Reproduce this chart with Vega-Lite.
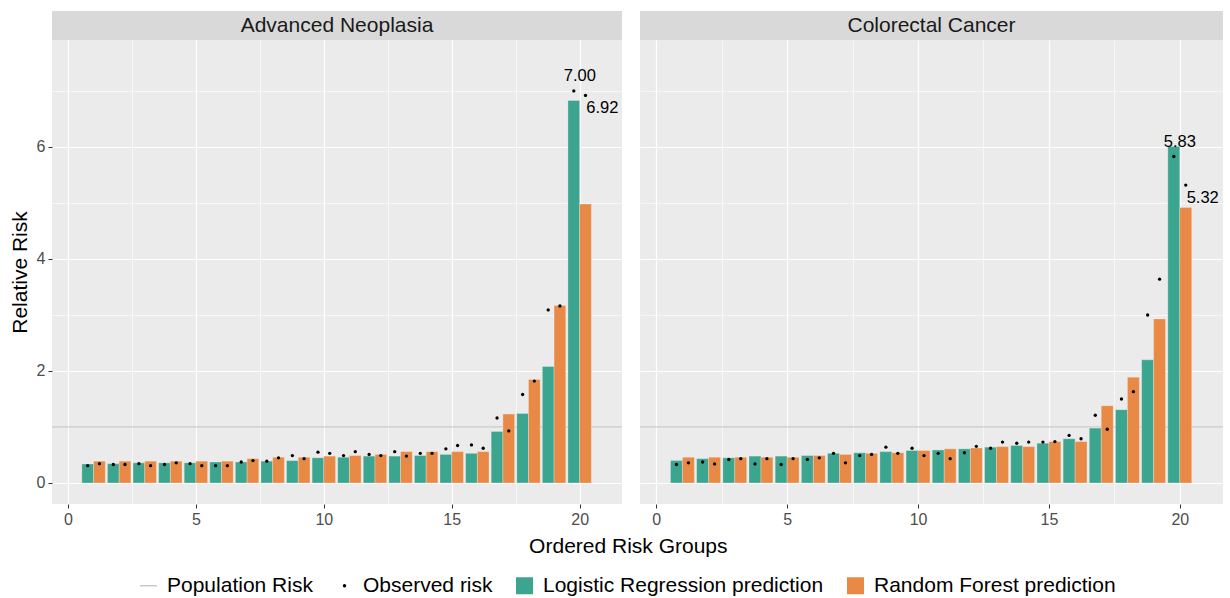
{
  "$schema": "https://vega.github.io/schema/vega-lite/v6.json",
  "padding": {"left": 9, "top": 11, "right": 5, "bottom": 5},
  "background": "white",
  "datasets": {
    "neo": [
      {"group": 1, "model": "Logistic Regression prediction", "predicted": 0.34, "observed": 0.31},
      {"group": 2, "model": "Logistic Regression prediction", "predicted": 0.345, "observed": 0.33},
      {"group": 3, "model": "Logistic Regression prediction", "predicted": 0.36, "observed": 0.345},
      {"group": 4, "model": "Logistic Regression prediction", "predicted": 0.36, "observed": 0.33},
      {"group": 5, "model": "Logistic Regression prediction", "predicted": 0.36, "observed": 0.345},
      {"group": 6, "model": "Logistic Regression prediction", "predicted": 0.375, "observed": 0.31},
      {"group": 7, "model": "Logistic Regression prediction", "predicted": 0.375, "observed": 0.375},
      {"group": 8, "model": "Logistic Regression prediction", "predicted": 0.39, "observed": 0.39},
      {"group": 9, "model": "Logistic Regression prediction", "predicted": 0.40, "observed": 0.49},
      {"group": 10, "model": "Logistic Regression prediction", "predicted": 0.45, "observed": 0.55},
      {"group": 11, "model": "Logistic Regression prediction", "predicted": 0.46, "observed": 0.49},
      {"group": 12, "model": "Logistic Regression prediction", "predicted": 0.48, "observed": 0.51},
      {"group": 13, "model": "Logistic Regression prediction", "predicted": 0.48, "observed": 0.56},
      {"group": 14, "model": "Logistic Regression prediction", "predicted": 0.49, "observed": 0.53},
      {"group": 15, "model": "Logistic Regression prediction", "predicted": 0.51, "observed": 0.61},
      {"group": 16, "model": "Logistic Regression prediction", "predicted": 0.53, "observed": 0.68},
      {"group": 17, "model": "Logistic Regression prediction", "predicted": 0.92, "observed": 1.16},
      {"group": 18, "model": "Logistic Regression prediction", "predicted": 1.24, "observed": 1.58},
      {"group": 19, "model": "Logistic Regression prediction", "predicted": 2.08, "observed": 3.09},
      {"group": 20, "model": "Logistic Regression prediction", "predicted": 6.83, "observed": 7.00},
      {"group": 1, "model": "Random Forest prediction", "predicted": 0.39, "observed": 0.345},
      {"group": 2, "model": "Random Forest prediction", "predicted": 0.39, "observed": 0.33},
      {"group": 3, "model": "Random Forest prediction", "predicted": 0.39, "observed": 0.31},
      {"group": 4, "model": "Random Forest prediction", "predicted": 0.39, "observed": 0.36},
      {"group": 5, "model": "Random Forest prediction", "predicted": 0.39, "observed": 0.31},
      {"group": 6, "model": "Random Forest prediction", "predicted": 0.39, "observed": 0.31},
      {"group": 7, "model": "Random Forest prediction", "predicted": 0.435, "observed": 0.40},
      {"group": 8, "model": "Random Forest prediction", "predicted": 0.46, "observed": 0.45},
      {"group": 9, "model": "Random Forest prediction", "predicted": 0.46, "observed": 0.435},
      {"group": 10, "model": "Random Forest prediction", "predicted": 0.48, "observed": 0.53},
      {"group": 11, "model": "Random Forest prediction", "predicted": 0.49, "observed": 0.56},
      {"group": 12, "model": "Random Forest prediction", "predicted": 0.51, "observed": 0.49},
      {"group": 13, "model": "Random Forest prediction", "predicted": 0.56, "observed": 0.48},
      {"group": 14, "model": "Random Forest prediction", "predicted": 0.56, "observed": 0.53},
      {"group": 15, "model": "Random Forest prediction", "predicted": 0.56, "observed": 0.67},
      {"group": 16, "model": "Random Forest prediction", "predicted": 0.56, "observed": 0.62},
      {"group": 17, "model": "Random Forest prediction", "predicted": 1.23, "observed": 0.93},
      {"group": 18, "model": "Random Forest prediction", "predicted": 1.85, "observed": 1.82},
      {"group": 19, "model": "Random Forest prediction", "predicted": 3.17, "observed": 3.16},
      {"group": 20, "model": "Random Forest prediction", "predicted": 4.98, "observed": 6.92}
    ],
    "crc": [
      {"group": 1, "model": "Logistic Regression prediction", "predicted": 0.40, "observed": 0.33},
      {"group": 2, "model": "Logistic Regression prediction", "predicted": 0.435, "observed": 0.375},
      {"group": 3, "model": "Logistic Regression prediction", "predicted": 0.45, "observed": 0.42},
      {"group": 4, "model": "Logistic Regression prediction", "predicted": 0.48, "observed": 0.34},
      {"group": 5, "model": "Logistic Regression prediction", "predicted": 0.48, "observed": 0.33},
      {"group": 6, "model": "Logistic Regression prediction", "predicted": 0.49, "observed": 0.42},
      {"group": 7, "model": "Logistic Regression prediction", "predicted": 0.53, "observed": 0.53},
      {"group": 8, "model": "Logistic Regression prediction", "predicted": 0.54, "observed": 0.49},
      {"group": 9, "model": "Logistic Regression prediction", "predicted": 0.56, "observed": 0.64},
      {"group": 10, "model": "Logistic Regression prediction", "predicted": 0.58, "observed": 0.62},
      {"group": 11, "model": "Logistic Regression prediction", "predicted": 0.59, "observed": 0.53},
      {"group": 12, "model": "Logistic Regression prediction", "predicted": 0.61, "observed": 0.54},
      {"group": 13, "model": "Logistic Regression prediction", "predicted": 0.64, "observed": 0.62},
      {"group": 14, "model": "Logistic Regression prediction", "predicted": 0.67, "observed": 0.71},
      {"group": 15, "model": "Logistic Regression prediction", "predicted": 0.71, "observed": 0.73},
      {"group": 16, "model": "Logistic Regression prediction", "predicted": 0.79, "observed": 0.85},
      {"group": 17, "model": "Logistic Regression prediction", "predicted": 0.98, "observed": 1.21},
      {"group": 18, "model": "Logistic Regression prediction", "predicted": 1.31, "observed": 1.50},
      {"group": 19, "model": "Logistic Regression prediction", "predicted": 2.20, "observed": 3.00},
      {"group": 20, "model": "Logistic Regression prediction", "predicted": 6.01, "observed": 5.83},
      {"group": 1, "model": "Random Forest prediction", "predicted": 0.46, "observed": 0.36},
      {"group": 2, "model": "Random Forest prediction", "predicted": 0.46, "observed": 0.34},
      {"group": 3, "model": "Random Forest prediction", "predicted": 0.46, "observed": 0.435},
      {"group": 4, "model": "Random Forest prediction", "predicted": 0.46, "observed": 0.435},
      {"group": 5, "model": "Random Forest prediction", "predicted": 0.46, "observed": 0.435},
      {"group": 6, "model": "Random Forest prediction", "predicted": 0.49, "observed": 0.45},
      {"group": 7, "model": "Random Forest prediction", "predicted": 0.51, "observed": 0.36},
      {"group": 8, "model": "Random Forest prediction", "predicted": 0.53, "observed": 0.51},
      {"group": 9, "model": "Random Forest prediction", "predicted": 0.54, "observed": 0.53},
      {"group": 10, "model": "Random Forest prediction", "predicted": 0.58, "observed": 0.49},
      {"group": 11, "model": "Random Forest prediction", "predicted": 0.61, "observed": 0.435},
      {"group": 12, "model": "Random Forest prediction", "predicted": 0.625, "observed": 0.655},
      {"group": 13, "model": "Random Forest prediction", "predicted": 0.65, "observed": 0.73},
      {"group": 14, "model": "Random Forest prediction", "predicted": 0.65, "observed": 0.73},
      {"group": 15, "model": "Random Forest prediction", "predicted": 0.74, "observed": 0.74},
      {"group": 16, "model": "Random Forest prediction", "predicted": 0.74, "observed": 0.79},
      {"group": 17, "model": "Random Forest prediction", "predicted": 1.38, "observed": 0.96},
      {"group": 18, "model": "Random Forest prediction", "predicted": 1.89, "observed": 1.63},
      {"group": 19, "model": "Random Forest prediction", "predicted": 2.93, "observed": 3.64},
      {"group": 20, "model": "Random Forest prediction", "predicted": 4.92, "observed": 5.32}
    ],
    "pop": [{"label": "Population Risk", "risk": 1}]
  },
  "title": {"text": "Ordered Risk Groups", "orient": "bottom", "anchor": "middle", "fontSize": 21, "fontWeight": "normal", "color": "#000000", "offset": -60, "dx": 12},
  "spacing": 16,
  "hconcat": [
    {
      "spacing": 0,
      "vconcat": [
        {
          "width": 570, "height": 29,
          "data": {"values": [{"panel": "Advanced Neoplasia"}]},
          "view": {"fill": "#D9D9D9", "stroke": null},
          "mark": {"type": "text", "fontSize": 21, "color": "#1A1A1A"},
          "encoding": {"text": {"field": "panel", "type": "nominal"}}
        },
        {
          "width": 570, "height": 464,
          "view": {"fill": "#EBEBEB", "stroke": null},
          "layer": [
            {
              "data": {"name": "pop"},
              "mark": {"type": "rule", "strokeWidth": 1.1},
              "encoding": {
                "y": {"field": "risk", "type": "quantitative", "scale": {"domain": [-0.375, 7.91], "nice": false, "zero": false},
                  "axis": {"values": [0, 1, 2, 3, 4, 5, 6, 7], "labelExpr": "datum.value % 2 === 0 ? format(datum.value, 'd') : ''", "title": "Relative Risk", "labelFontSize": 16,
                    "gridWidth": {"condition": {"test": "datum.value % 2 === 0", "value": 1.2}, "value": 0.6},
                    "tickSize": {"condition": {"test": "datum.value % 2 === 0", "value": 4}, "value": 0}}},
                "color": {"field": "label", "type": "nominal",
                  "scale": {"domain": ["Population Risk", "Observed risk", "Logistic Regression prediction", "Random Forest prediction"], "range": ["#BDBDBD", "#000000", "#3BA58F", "#E88A45"]},
                  "legend": {"title": null, "orient": "none", "legendX": 86, "legendY": 564, "direction": "horizontal", "labelFontSize": 21, "labelColor": "#000000", "labelLimit": 0, "symbolSize": 289, "columnPadding": 21, "labelOffset": 8,
                    "encode": {"symbols": {"update": {
                      "shape": {"signal": "datum.value === 'Population Risk' ? 'stroke' : datum.value === 'Observed risk' ? 'circle' : 'square'"},
                      "size": {"signal": "datum.value === 'Observed risk' ? 12 : 289"},
                      "stroke": {"signal": "datum.value === 'Population Risk' ? '#BDBDBD' : 'transparent'"},
                      "strokeWidth": {"signal": "datum.value === 'Population Risk' ? 1.2 : 0"},
                      "fill": {"signal": "datum.value === 'Population Risk' ? 'transparent' : datum.value === 'Observed risk' ? '#000000' : datum.value === 'Logistic Regression prediction' ? '#3BA58F' : '#E88A45'"},
                      "opacity": {"value": 1}
                    }}}}
                }
              }
            },
            {
              "data": {"name": "neo"},
              "transform": [{"filter": "datum.model === 'Logistic Regression prediction'"}],
              "mark": {"type": "bar", "size": 11.7, "xOffset": -5.86, "stroke": "#f5f5f5", "strokeWidth": 0.5, "strokeOpacity": 0.6},
              "encoding": {
                "x": {"field": "group", "type": "quantitative", "scale": {"domain": [-0.43, 21.46], "nice": false, "zero": false},
                  "axis": {"values": [0, 2.5, 5, 7.5, 10, 12.5, 15, 17.5, 20], "labelExpr": "datum.value % 5 === 0 ? format(datum.value, 'd') : ''", "title": null, "labelFontSize": 16,
                    "gridWidth": {"condition": {"test": "datum.value % 5 === 0", "value": 1.2}, "value": 0.6},
                    "tickSize": {"condition": {"test": "datum.value % 5 === 0", "value": 4}, "value": 0}}},
                "y": {"field": "predicted", "type": "quantitative"},
                "color": {"field": "model", "type": "nominal"}
              }
            },
            {
              "data": {"name": "neo"},
              "transform": [{"filter": "datum.model === 'Random Forest prediction'"}],
              "mark": {"type": "bar", "size": 11.7, "xOffset": 5.86, "stroke": "#f5f5f5", "strokeWidth": 0.5, "strokeOpacity": 0.6},
              "encoding": {
                "x": {"field": "group", "type": "quantitative"},
                "y": {"field": "predicted", "type": "quantitative"},
                "color": {"field": "model", "type": "nominal"}
              }
            },
            {
              "data": {"name": "neo"},
              "transform": [{"filter": "datum.model === 'Logistic Regression prediction'"}],
              "mark": {"type": "circle", "size": 11, "opacity": 1, "xOffset": -5.86},
              "encoding": {
                "x": {"field": "group", "type": "quantitative"},
                "y": {"field": "observed", "type": "quantitative"},
                "color": {"datum": "Observed risk", "type": "nominal"}
              }
            },
            {
              "data": {"name": "neo"},
              "transform": [{"filter": "datum.model === 'Random Forest prediction'"}],
              "mark": {"type": "circle", "size": 11, "opacity": 1, "xOffset": 5.86},
              "encoding": {
                "x": {"field": "group", "type": "quantitative"},
                "y": {"field": "observed", "type": "quantitative"},
                "color": {"datum": "Observed risk", "type": "nominal"}
              }
            },
            {
              "data": {"name": "neo"},
              "transform": [{"filter": "datum.model === 'Logistic Regression prediction' && datum.group === 20"}],
              "mark": {"type": "text", "fontSize": 16.5, "color": "#000000", "xOffset": 0.2, "yOffset": -15},
              "encoding": {
                "x": {"field": "group", "type": "quantitative"},
                "y": {"field": "observed", "type": "quantitative"},
                "text": {"field": "observed", "type": "quantitative", "format": ".2f"}
              }
            },
            {
              "data": {"name": "neo"},
              "transform": [{"filter": "datum.model === 'Random Forest prediction' && datum.group === 20"}],
              "mark": {"type": "text", "fontSize": 16.5, "color": "#000000", "align": "left", "xOffset": 6.6, "yOffset": 13},
              "encoding": {
                "x": {"field": "group", "type": "quantitative"},
                "y": {"field": "observed", "type": "quantitative"},
                "text": {"field": "observed", "type": "quantitative", "format": ".2f"}
              }
            }
          ]
        }
      ]
    },
    {
      "spacing": 0,
      "vconcat": [
        {
          "width": 583, "height": 29,
          "data": {"values": [{"panel": "Colorectal Cancer"}]},
          "view": {"fill": "#D9D9D9", "stroke": null},
          "mark": {"type": "text", "fontSize": 21, "color": "#1A1A1A"},
          "encoding": {"text": {"field": "panel", "type": "nominal"}}
        },
        {
          "width": 583, "height": 464,
          "view": {"fill": "#EBEBEB", "stroke": null},
          "layer": [
            {
              "data": {"name": "pop"},
              "mark": {"type": "rule", "strokeWidth": 1.1},
              "encoding": {
                "y": {"field": "risk", "type": "quantitative", "scale": {"domain": [-0.375, 7.91], "nice": false, "zero": false},
                  "axis": {"values": [0, 1, 2, 3, 4, 5, 6, 7], "labels": false, "ticks": false, "title": null,
                    "gridWidth": {"condition": {"test": "datum.value % 2 === 0", "value": 1.2}, "value": 0.6}}},
                "color": {"field": "label", "type": "nominal"}
              }
            },
            {
              "data": {"name": "crc"},
              "transform": [{"filter": "datum.model === 'Logistic Regression prediction'"}],
              "mark": {"type": "bar", "size": 11.95, "xOffset": -5.97, "stroke": "#f5f5f5", "strokeWidth": 0.5, "strokeOpacity": 0.6},
              "encoding": {
                "x": {"field": "group", "type": "quantitative", "scale": {"domain": [-0.43, 21.46], "nice": false, "zero": false},
                  "axis": {"values": [0, 2.5, 5, 7.5, 10, 12.5, 15, 17.5, 20], "labelExpr": "datum.value % 5 === 0 ? format(datum.value, 'd') : ''", "title": null, "labelFontSize": 16,
                    "gridWidth": {"condition": {"test": "datum.value % 5 === 0", "value": 1.2}, "value": 0.6},
                    "tickSize": {"condition": {"test": "datum.value % 5 === 0", "value": 4}, "value": 0}}},
                "y": {"field": "predicted", "type": "quantitative"},
                "color": {"field": "model", "type": "nominal"}
              }
            },
            {
              "data": {"name": "crc"},
              "transform": [{"filter": "datum.model === 'Random Forest prediction'"}],
              "mark": {"type": "bar", "size": 11.95, "xOffset": 5.97, "stroke": "#f5f5f5", "strokeWidth": 0.5, "strokeOpacity": 0.6},
              "encoding": {
                "x": {"field": "group", "type": "quantitative"},
                "y": {"field": "predicted", "type": "quantitative"},
                "color": {"field": "model", "type": "nominal"}
              }
            },
            {
              "data": {"name": "crc"},
              "transform": [{"filter": "datum.model === 'Logistic Regression prediction'"}],
              "mark": {"type": "circle", "size": 11, "opacity": 1, "xOffset": -5.97},
              "encoding": {
                "x": {"field": "group", "type": "quantitative"},
                "y": {"field": "observed", "type": "quantitative"},
                "color": {"datum": "Observed risk", "type": "nominal"}
              }
            },
            {
              "data": {"name": "crc"},
              "transform": [{"filter": "datum.model === 'Random Forest prediction'"}],
              "mark": {"type": "circle", "size": 11, "opacity": 1, "xOffset": 5.97},
              "encoding": {
                "x": {"field": "group", "type": "quantitative"},
                "y": {"field": "observed", "type": "quantitative"},
                "color": {"datum": "Observed risk", "type": "nominal"}
              }
            },
            {
              "data": {"name": "crc"},
              "transform": [{"filter": "datum.model === 'Logistic Regression prediction' && datum.group === 20"}],
              "mark": {"type": "text", "fontSize": 16.5, "color": "#000000", "xOffset": 0.1, "yOffset": -14},
              "encoding": {
                "x": {"field": "group", "type": "quantitative"},
                "y": {"field": "observed", "type": "quantitative"},
                "text": {"field": "observed", "type": "quantitative", "format": ".2f"}
              }
            },
            {
              "data": {"name": "crc"},
              "transform": [{"filter": "datum.model === 'Random Forest prediction' && datum.group === 20"}],
              "mark": {"type": "text", "fontSize": 16.5, "color": "#000000", "align": "left", "xOffset": 6.9, "yOffset": 13},
              "encoding": {
                "x": {"field": "group", "type": "quantitative"},
                "y": {"field": "observed", "type": "quantitative"},
                "text": {"field": "observed", "type": "quantitative", "format": ".2f"}
              }
            }
          ]
        }
      ]
    }
  ],
  "config": {
    "font": "Liberation Sans",
    "view": {"stroke": null},
    "axis": {
      "gridColor": "#FFFFFF",
      "gridOpacity": 1,
      "domain": false,
      "tickColor": "#333333",
      "tickWidth": 1,
      "labelColor": "#4D4D4D",
      "labelFontSize": 16,
      "labelPadding": 3,
      "titleFontSize": 21,
      "titleFontWeight": "normal",
      "titleColor": "#000000",
      "titlePadding": 6,
      "labelFlush": false,
      "labelOverlap": false
    },
    "legend": {"labelFont": "Liberation Sans"}
  }
}
